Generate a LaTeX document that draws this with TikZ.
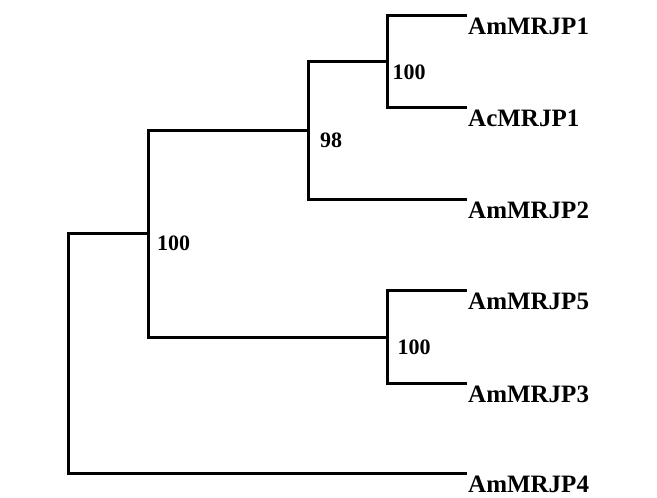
\documentclass[tikz,border=0pt]{standalone}
\usepackage{fontspec}
\setmainfont{Liberation Serif}
\usetikzlibrary{positioning}
\tikzset{
  branch/.style={line width=3pt, line join=miter},
  leaf/.style={inner sep=0pt, font=\fontsize{25}{25}\selectfont\bfseries},
  boot/.style={inner sep=0pt, font=\fontsize{22}{22}\selectfont\bfseries}
}
\begin{document}
\begin{tikzpicture}[x=1pt, y=-1pt]
\useasboundingbox (0,0) rectangle (657,498);
% internal nodes
\coordinate (root) at (68,353);
\coordinate (n100r) at (148,233);
\coordinate (n98) at (308,130);
\coordinate (n100a) at (387.5,61);
\coordinate (n100b) at (387.5,337);
% leaf tips
\coordinate (t1) at (467,15);
\coordinate (t2) at (467,107);
\coordinate (t3) at (467,199);
\coordinate (t4) at (467,290);
\coordinate (t5) at (467,383);
\coordinate (t6) at (467,473);
% leaf names
\node[leaf, below right=3pt and 1pt of t1] (AmMRJP1) {AmMRJP1};
\node[leaf, below right=3pt and 1pt of t2] (AcMRJP1) {AcMRJP1};
\node[leaf, below right=3pt and 1pt of t3] (AmMRJP2) {AmMRJP2};
\node[leaf, below right=3pt and 1pt of t4] (AmMRJP5) {AmMRJP5};
\node[leaf, below right=3pt and 1pt of t5] (AmMRJP3) {AmMRJP3};
\node[leaf, below right=3pt and 1pt of t6] (AmMRJP4) {AmMRJP4};
% bootstrap values
\node[boot, below right=3pt and 9pt of n100r] (b100r) {100};
\node[boot, below right=3pt and 12pt of n98] (b98) {98};
\node[boot, below right=4pt and 5pt of n100a] (b100a) {100};
\node[boot, below right=3pt and 10pt of n100b] (b100b) {100};
% branches
\draw[branch] (root) |- (n100r);
\draw[branch] (root) |- (t6);
\draw[branch] (n100r) |- (n98);
\draw[branch] (n100r) |- (n100b);
\draw[branch] (n98) |- (n100a);
\draw[branch] (n98) |- (t3);
\draw[branch] (n100a) |- (t1);
\draw[branch] (n100a) |- (t2);
\draw[branch] (n100b) |- (t4);
\draw[branch] (n100b) |- (t5);
\end{tikzpicture}
\end{document}
